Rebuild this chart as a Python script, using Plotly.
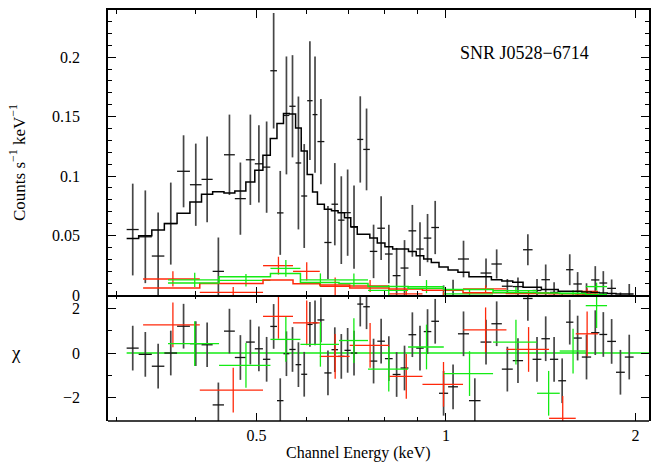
import numpy as np
import plotly.graph_objects as go

# ---------------- data ----------------
black_edges = [0.311, 0.325, 0.341, 0.357, 0.374, 0.392, 0.409, 0.426, 0.444, 0.462,
               0.481, 0.497, 0.512, 0.526, 0.539, 0.552, 0.564, 0.577, 0.589, 0.602,
               0.614, 0.625, 0.641, 0.658, 0.674, 0.690, 0.706, 0.723, 0.739, 0.757,
               0.778, 0.800, 0.823, 0.847, 0.872, 0.897, 0.922, 0.948, 0.975, 1.008,
               1.045, 1.088, 1.135, 1.181, 1.227, 1.277, 1.326, 1.373, 1.418, 1.463,
               1.508, 1.552, 1.594, 1.644, 1.701, 1.753, 1.804, 1.863, 1.924, 1.987]
black_rate = [0.055, 0.0489, 0.0327, 0.060, 0.104, 0.0927, 0.0972, 0.0198, 0.1179, 0.081,
              0.1137, 0.1103, 0.1075, 0.1886, 0.069, 0.151, 0.1587, 0.111, 0.0832, 0.1634,
              0.1517, 0.129, 0.0441, 0.0763, 0.0629, 0.0692, 0.057, 0.1308, 0.1224, 0.0366,
              0.0561, 0.0344, 0.0162, 0.0226, 0.0539, 0.0386, 0.0478, 0.0567, -0.013, -0.0048,
              0.0302, -0.0167, 0.0184, 0.026, 0.0073, 0.007, 0.038, 0.0037, 0.0128, 0.0021,
              -0.0094, 0.0212, 0.0092, 0.0008, 0.0126, 0.010, 0.0055, -0.006, -0.0012]
black_err = [0.0386, 0.039, 0.0366, 0.0345, 0.0303, 0.0346, 0.036, 0.0285, 0.0338, 0.0304,
             0.038, 0.0325, 0.0384, 0.0486, 0.0353, 0.0496, 0.043, 0.0559, 0.0437, 0.05,
             0.0489, 0.0359, 0.0307, 0.0346, 0.0369, 0.0363, 0.035, 0.0363, 0.0344, 0.0225,
             0.0268, 0.0246, 0.0233, 0.0235, 0.0218, 0.0226, 0.0203, 0.0224, 0.021, 0.0176,
             0.0154, 0.015, 0.0123, 0.0123, 0.0061, 0.0077, 0.013, 0.0097, 0.0128, 0.0085,
             0.010, 0.013, 0.010, 0.009, 0.0116, 0.010, 0.0075, 0.008, 0.0104]
black_model = [0.0474, 0.0497, 0.0547, 0.060, 0.0687, 0.0782, 0.0847, 0.0868, 0.0858, 0.0874,
               0.095, 0.1048, 0.1176, 0.1316, 0.1442, 0.1526, 0.1522, 0.1405, 0.121, 0.1014,
               0.0866, 0.0763, 0.0721, 0.0707, 0.0692, 0.065, 0.0573, 0.0511, 0.0511, 0.0478,
               0.0436, 0.0405, 0.0386, 0.0386, 0.0365, 0.033, 0.0302, 0.0273, 0.0235, 0.021,
               0.019, 0.0153, 0.0153, 0.0128, 0.0117, 0.0106, 0.0064, 0.0064, 0.0045, 0.0045,
               0.003, 0.003, 0.003, 0.0024, 0.002, 0.0015, 0.0011, 0.0008, 0.0007]
black_chi = [0.22, -0.06, -0.59, 0.0, 1.2, 0.42, 0.37, -2.32, 0.98, -0.2,
             0.49, 0.19, -0.28, 1.19, -2.13, -0.03, 0.16, -0.52, -0.95, 1.28,
             1.35, 1.48, -0.89, 0.15, -0.15, 0.12, 0.0, 2.19, 2.07, -0.36,
             0.53, -0.25, -0.96, -0.67, 0.82, 0.22, 0.96, 1.42, -1.8, -1.51,
             0.86, -2.13, 0.49, 1.31, -0.72, -0.34, 2.44, -0.28, 0.64, -0.28,
             -1.24, 1.38, 0.67, -0.18, 0.91, 0.83, 0.52, -0.86, -0.18]

red_edges = [0.3303, 0.4064, 0.5122, 0.5716, 0.6304, 0.7033, 0.8122, 0.9178, 1.0646,
             1.2478, 1.4583, 1.6079, 1.7445]
red_rate = [0.0134, 0.0022, 0.0246, 0.0198, 0.0072, 0.0075, 0.0008, -0.0009, 0.005,
            0.0016, -0.0063, 0.003]
red_err = [0.0064, 0.0045, 0.0075, 0.0077, 0.0075, 0.005, 0.004, 0.0035, 0.003,
           0.0025, 0.0025, 0.0025]
red_model = [0.0059, 0.0097, 0.0126, 0.0094, 0.0083, 0.0058, 0.005, 0.004, 0.0019,
             0.0012, 0.001, 0.0008]
red_chi = [1.26, -1.66, 1.64, 1.35, -0.15, 0.34, -1.04, -1.4, 1.04, 0.16, -2.92, 0.86]

green_edges = [0.3618, 0.4361, 0.5263, 0.5873, 0.6763, 0.7520, 0.8707, 0.9922, 1.1882,
               1.3957, 1.5164, 1.6678, 1.8029]
green_rate = [0.0126, 0.0123, 0.0223, 0.0126, 0.0126, 0.0038, 0.007, 0.0008, 0.0036,
              -0.003, 0.0014, 0.007]
green_err = [0.006, 0.0053, 0.007, 0.0055, 0.0055, 0.0045, 0.0055, 0.004, 0.003,
             0.0025, 0.0025, 0.0033]
green_model = [0.0101, 0.0152, 0.018, 0.0105, 0.0095, 0.007, 0.0055, 0.0045, 0.0021,
               0.0015, 0.0012, 0.0003]
green_chi = [0.42, -0.55, 0.61, 0.39, 0.56, -0.72, 0.27, -0.92, 0.49, -1.8, 0.09, 2.12]

x_ticks = [0.5, 1, 2]
x_ticklabels = ["0.5", "1", "2"]
x_minor = [0.3, 0.4, 0.6, 0.7, 0.8, 0.9]
y_top_ticks = [0, 0.05, 0.1, 0.15, 0.2]
y_top_labels = ["0", "0.05", "0.1", "0.15", "0.2"]
y_top_minor = [v / 100 for v in range(1, 24) if v % 5 != 0]
y_bot_ticks = [-2, 0, 2]
y_bot_labels = ["\u22122", "0", "2"]
y_bot_minor = [-1, 1]

E_RANGE = [0.2905, 2.102]
Y_TOP_RANGE = [0, 0.2397]
Y_BOT_RANGE = [-3.04, 2.6]

BLACK_V = "rgb(70,70,70)"
BLACK_H = "rgb(20,20,20)"
RED = "rgb(255,40,10)"
GREEN = "rgb(20,235,20)"
FONT = "Liberation Serif"

fig = go.Figure()


def bins(edges):
    lo = np.array(edges[:-1])
    hi = np.array(edges[1:])
    c = (lo + hi) / 2
    return c, c - lo, hi - c


def add_cross(edges, vals, errs, cv, ch, xa, ya, tv=1.7, th=1.3):
    c, m, p = bins(edges)
    fig.add_trace(go.Scatter(
        x=c, y=vals, mode="markers", marker=dict(size=1, color=ch, opacity=0),
        error_x=dict(type="data", symmetric=False, array=p, arrayminus=m,
                     width=0, thickness=th, color=ch),
        error_y=dict(type="data", array=errs, width=0, thickness=tv, color=cv),
        xaxis=xa, yaxis=ya, showlegend=False, hoverinfo="skip"))


def add_step(edges, model, color, xa, ya, w=1.5):
    fig.add_trace(go.Scatter(
        x=list(edges), y=list(model) + [model[-1]], mode="lines",
        line=dict(color=color, width=w, shape="hv"),
        xaxis=xa, yaxis=ya, showlegend=False, hoverinfo="skip"))


# top panel
add_cross(black_edges, black_rate, black_err, BLACK_V, BLACK_H, "x2", "y2")
add_cross(red_edges, red_rate, red_err, RED, RED, "x2", "y2", tv=1.3)
add_cross(green_edges, green_rate, green_err, GREEN, GREEN, "x2", "y2", tv=1.3)
add_step(black_edges, black_model, "black", "x2", "y2")
add_step(red_edges, red_model, RED, "x2", "y2")
add_step(green_edges, green_model, GREEN, "x2", "y2")

# residual panel
fig.add_trace(go.Scatter(x=[black_edges[0], E_RANGE[1]], y=[0, 0], mode="lines",
                         line=dict(color=GREEN, width=1.5), xaxis="x", yaxis="y",
                         showlegend=False, hoverinfo="skip"))
add_cross(black_edges, black_chi, np.ones(len(black_chi)), BLACK_V, BLACK_H, "x", "y")
add_cross(red_edges, red_chi, np.ones(len(red_chi)), RED, RED, "x", "y", tv=1.3)
add_cross(green_edges, green_chi, np.ones(len(green_chi)), GREEN, GREEN, "x", "y", tv=1.3)

split = 0.3068
LW = 1.5
tick_common = dict(ticks="inside", ticklen=8, tickwidth=1.3, tickcolor="black",
                   showgrid=False, zeroline=False,
                   tickfont=dict(family=FONT, size=16, color="black"))
lrange = [np.log10(E_RANGE[0]), np.log10(E_RANGE[1])]
minor_style = dict(tickmode="array", ticks="inside", ticklen=4, tickwidth=1.3,
                   tickcolor="black")

fig.update_layout(
    width=660, height=466,
    margin=dict(l=108, r=11, t=8, b=45),
    paper_bgcolor="white", plot_bgcolor="white",
    font=dict(family=FONT, size=16, color="black"),
    # bottom panel x axis: ticks on both sides, no axis line (frame drawn by shape + top panel)
    xaxis=dict(domain=[0, 1], anchor="y", type="log", range=lrange,
               tickmode="array", tickvals=x_ticks, ticktext=x_ticklabels,
               minor=dict(tickvals=x_minor, **minor_style),
               showline=False, mirror="ticks",
               ticklabelstandoff=3, **tick_common),
    xaxis2=dict(domain=[0, 1], anchor="y2", type="log", range=lrange, matches="x",
                tickmode="array", tickvals=x_ticks, showticklabels=False,
                minor=dict(tickvals=x_minor, **minor_style),
                showline=True, linecolor="black", linewidth=LW, mirror="ticks",
                **tick_common),
    yaxis=dict(domain=[0, split], anchor="x", range=Y_BOT_RANGE,
               tickmode="array", tickvals=y_bot_ticks, ticktext=y_bot_labels,
               minor=dict(tickvals=y_bot_minor, **minor_style),
               showline=True, linecolor="black", linewidth=LW, mirror="ticks",
               ticklabelstandoff=23, **tick_common),
    yaxis2=dict(domain=[split, 1], anchor="x2", range=Y_TOP_RANGE,
                tickmode="array", tickvals=y_top_ticks, ticktext=y_top_labels,
                minor=dict(tickvals=y_top_minor, **minor_style),
                showline=True, linecolor="black", linewidth=LW, mirror="ticks",
                ticklabelstandoff=23, **tick_common),
    shapes=[dict(type="line", xref="paper", yref="paper", x0=0, x1=1, y0=0, y1=0,
                 line=dict(color="black", width=LW))],
    annotations=[
        dict(text="SNR J0528\u22126714", xref="paper", yref="paper", x=0.769, y=0.896,
             xanchor="center", yanchor="middle", showarrow=False,
             font=dict(family=FONT, size=18, color="black")),
        dict(text="Counts s<sup>\u22121</sup> keV<sup>\u22121</sup>", xref="paper", yref="paper",
             x=-0.1669, y=0.6295, xanchor="center", yanchor="middle", textangle=-90,
             showarrow=False, font=dict(family=FONT, size=17, color="black")),
        dict(text="\u03c7", xref="paper", yref="paper", x=-0.17, y=0.167,
             xanchor="center", yanchor="middle", showarrow=False,
             font=dict(family=FONT, size=19, color="black")),
        dict(text="Channel Energy (keV)", xref="paper", yref="paper", x=0.4625, y=-0.0775,
             xanchor="center", yanchor="middle", showarrow=False,
             font=dict(family=FONT, size=16, color="black")),
    ],
)

fig.write_html("out.html")
